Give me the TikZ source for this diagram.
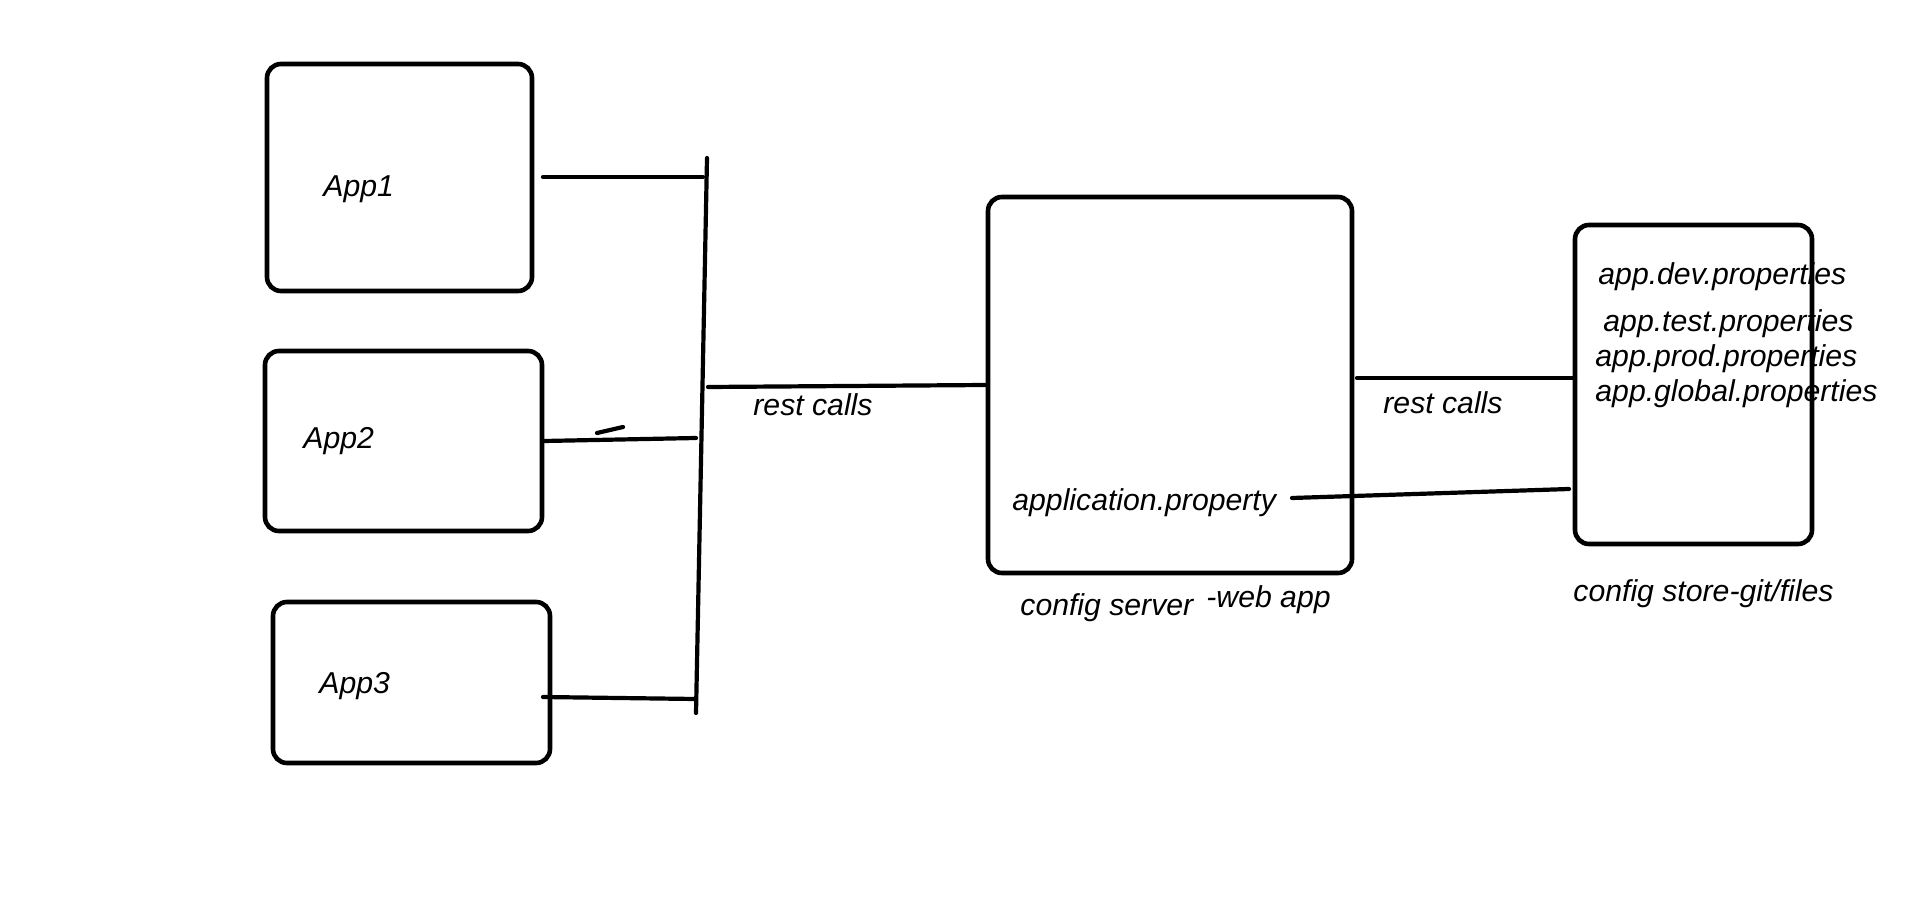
\documentclass[tikz,border=0pt]{standalone}
\usepackage{fontspec}
\setmainfont{Liberation Sans}
\usetikzlibrary{positioning}
\definecolor{penBlack}{HTML}{000000}

\begin{document}
\begin{tikzpicture}[x=0.5pt, y=-0.5pt,
    box/.style={draw=penBlack, line width=2.3pt, rounded corners=7pt, inner sep=0pt},
    wire/.style={draw=penBlack, line width=2.1pt, line cap=round},
    lbl/.style={font=\fontsize{15.1}{18}\selectfont\itshape, text=penBlack, inner sep=0pt, anchor=base west}]
        \useasboundingbox (0,0) rectangle (1914,903);
        % apps
        \node[box, minimum width=132.5pt, minimum height=113.5pt] (app1) at (399.5,177.5) {};
        \node[box, minimum width=138.5pt, minimum height=90pt] (app2) at (403.5,441) {};
        \node[box, minimum width=138.5pt, minimum height=80.5pt] (app3) at (411.5,682.5) {};
        \node[lbl] (app1txt) at (323,197) {App1};
        \node[lbl] (app2txt) at (303,448) {App2};
        \node[lbl] (app3txt) at (319,693) {App3};
        % config server
        \node[box, minimum width=182pt, minimum height=188pt] (server) at (1170,385) {};
        \node[lbl] (proptxt) at (1012,510) {application.property};
        \node[lbl] (srvtxt) at (1020,615) {config server};
        \node[lbl] (webtxt) at (1206,607) {-web app};
        % config store
        \node[box, minimum width=118.5pt, minimum height=159.5pt] (store) at (1693.5,384.5) {};
        \node[lbl] (devtxt) at (1598,285) {app.dev.properties};
        \node[lbl] (testtxt) at (1603,331) {app.test.properties};
        \node[lbl] (prodtxt) at (1595,366) {app.prod.properties};
        \node[lbl] (globtxt) at (1595,401) {app.global.properties};
        \node[lbl] (storetxt) at (1573,601) {config store-git/files};
        % bus
        \coordinate (bustop) at (707,158);
        \coordinate (busbot) at (696,713);
        \coordinate (bus1) at (703,177);
        \coordinate (bus2) at (696,438);
        \coordinate (bus3) at (696,699);
        \coordinate (bus4) at (708,387);
        \draw[wire] (bustop) -- (busbot);
        % app links
        \coordinate (a1out) at (543,177);
        \coordinate (a3out) at (543,697);
        \draw[wire] (a1out) -- (bus1);
        \draw[wire] (app2.east) -- (bus2);
        \coordinate (ticka) at (597,433);
        \coordinate (tickb) at (623,427);
        \draw[wire] (ticka) -- (tickb);
        \draw[wire] (a3out) -- (bus3);
        % rest calls
        \draw[wire] (bus4) -- (server.west);
        \node[lbl] (rest1) at (753,415) {rest calls};
        \coordinate (srvout) at (1357,378);
        \coordinate (storein) at (1575,378);
        \draw[wire] (srvout) -- (storein);
        \node[lbl] (rest2) at (1383,413) {rest calls};
        \coordinate (propout) at (1292,498);
        \coordinate (storeback) at (1569,489);
        \draw[wire] (propout) -- (storeback);
\end{tikzpicture}
\end{document}
